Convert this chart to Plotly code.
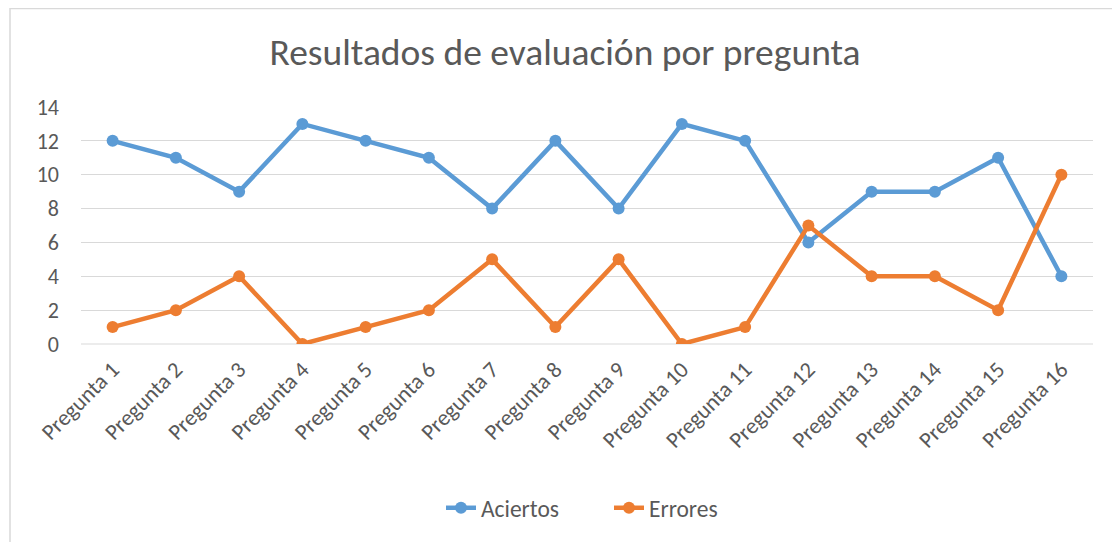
import plotly.graph_objects as go

categories = [f"Pregunta {i}" for i in range(1, 17)]
aciertos = [12, 11, 9, 13, 12, 11, 8, 12, 8, 13, 12, 6, 9, 9, 11, 4]
errores = [1, 2, 4, 0, 1, 2, 5, 1, 5, 0, 1, 7, 4, 4, 2, 10]

FONT = "Carlito, Lato, Liberation Sans, sans-serif"
GREY = "#595959"

fig = go.Figure()
fig.add_trace(go.Scatter(x=categories, y=aciertos, name="Aciertos", mode="lines+markers",
                         line=dict(color="#5B9BD5", width=4.5), marker=dict(size=12, color="#5B9BD5")))
fig.add_trace(go.Scatter(x=categories, y=errores, name="Errores", mode="lines+markers",
                         line=dict(color="#ED7D31", width=4.5), marker=dict(size=12, color="#ED7D31")))

OFF = 8  # page body margin
W, H = 1120 - OFF, 542 - OFF
L, R, T, B = 81 - OFF, 1093 - OFF, 107 - OFF, 344 - OFF
pw, ph = R - L, B - T

fig.update_layout(
    width=W, height=H,
    margin=dict(l=L, r=W - R, t=T, b=H - B),
    paper_bgcolor="white", plot_bgcolor="white",
    font=dict(family=FONT, color=GREY, size=22),
    title=dict(text="Resultados de evaluación por pregunta", x=(565 - OFF) / W, xanchor="center",
               y=1 - (52 - OFF) / H, yanchor="middle", font=dict(size=37.5, color=GREY, family=FONT)),
    xaxis=dict(type="category", range=[-0.5, 15.5], showgrid=False, showline=False,
               ticks="", tickangle=-45, ticklabelstandoff=7, tickfont=dict(size=22.5, color=GREY)),
    yaxis=dict(range=[0, 14], dtick=2, showgrid=True, gridcolor="#d9d9d9", gridwidth=1,
               zeroline=False, showline=False, ticks="", ticklabelstandoff=21,
               tickfont=dict(size=22, color=GREY)),
    legend=dict(orientation="h", x=(441 - OFF - L) / pw, xanchor="left", y=(B - (508 - OFF)) / ph,
                yanchor="middle", entrywidth=123, entrywidthmode="pixels",
                font=dict(size=23.5, color=GREY, family=FONT)),
    showlegend=True,
)

fig.add_shape(type="line", xref="paper", yref="paper", x0=0, x1=1, y0=0, y1=0,
              line=dict(color="#d9d9d9", width=1), layer="below")
fig.add_shape(type="rect", xref="paper", yref="paper",
              x0=(10 - OFF - L) / pw, x1=(W + 20 - L) / pw, y0=(B - (H + 20)) / ph, y1=(B - 0.5) / ph,
              line=dict(color="#d9d9d9", width=1.5), layer="below")

fig.write_html("out.html")
